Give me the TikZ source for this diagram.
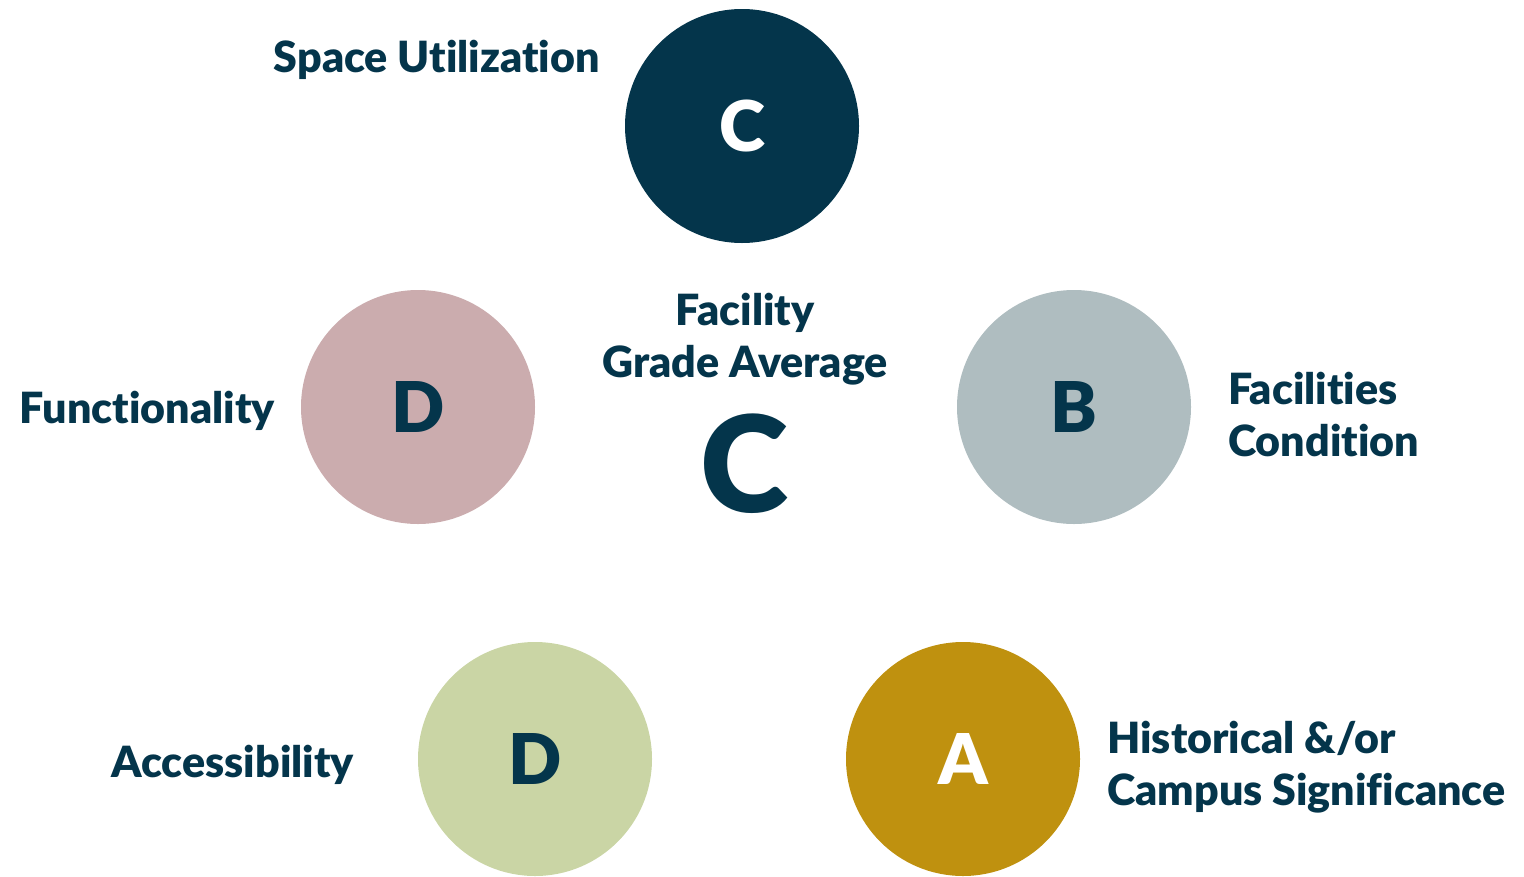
\documentclass[tikz,border=0pt]{standalone}
\usepackage{fontspec}
\setmainfont{Lato}[Ligatures = NoCommon, BoldFont = {Lato Black}]
\definecolor{navy}{HTML}{04354B}
\definecolor{rose}{HTML}{CBACAE}
\definecolor{slate}{HTML}{AFBDC0}
\definecolor{sage}{HTML}{CAD5A5}
\definecolor{ochre}{HTML}{BF910F}
\begin{document}
\begin{tikzpicture}[x = 1pt, y = -1pt,
		grade/.style = {circle, minimum size = 234pt, inner sep = 0pt, text = navy,
			font = \fontsize{70}{70}\selectfont\bfseries},
		lbl/.style = {text = navy, inner sep = 0pt, align = left,
			font = \fontsize{43}{52}\selectfont\bfseries}]
	\useasboundingbox (0,0) rectangle (1524,876);
	% grade circles
	\node[grade, fill = navy, text = white] (space) at (742,126) {C};
	\node[grade, fill = rose] (func) at (418,407) {D};
	\node[grade, fill = slate] (cond) at (1074,407) {B};
	\node[grade, fill = sage] (access) at (535,759) {D};
	\node[grade, fill = ochre, text = white] (hist) at (963,759) {A};
	% labels (base anchor = last line)
	\node[lbl, anchor = base east] (spacelbl) at (600,72) {Space Utilization};
	\node[lbl, anchor = base east] (funclbl) at (275,423) {Functionality};
	\node[lbl, anchor = base west] (condlbl) at (1228,456) {Facilities\\Condition};
	\node[lbl, anchor = base east] (accesslbl) at (354,777) {Accessibility};
	\node[lbl, anchor = base west] (histlbl) at (1107,805) {Historical \&/or\\Campus Significance};
	% average
	\node[lbl, align = center, anchor = base] (avg) at (745,377) {Facility\\Grade Average};
	\node[text = navy, inner sep = 0pt, anchor = base, font = \fontsize{134}{134}\selectfont\bfseries] (avggrade) at (744,512) {C};
\end{tikzpicture}
\end{document}
